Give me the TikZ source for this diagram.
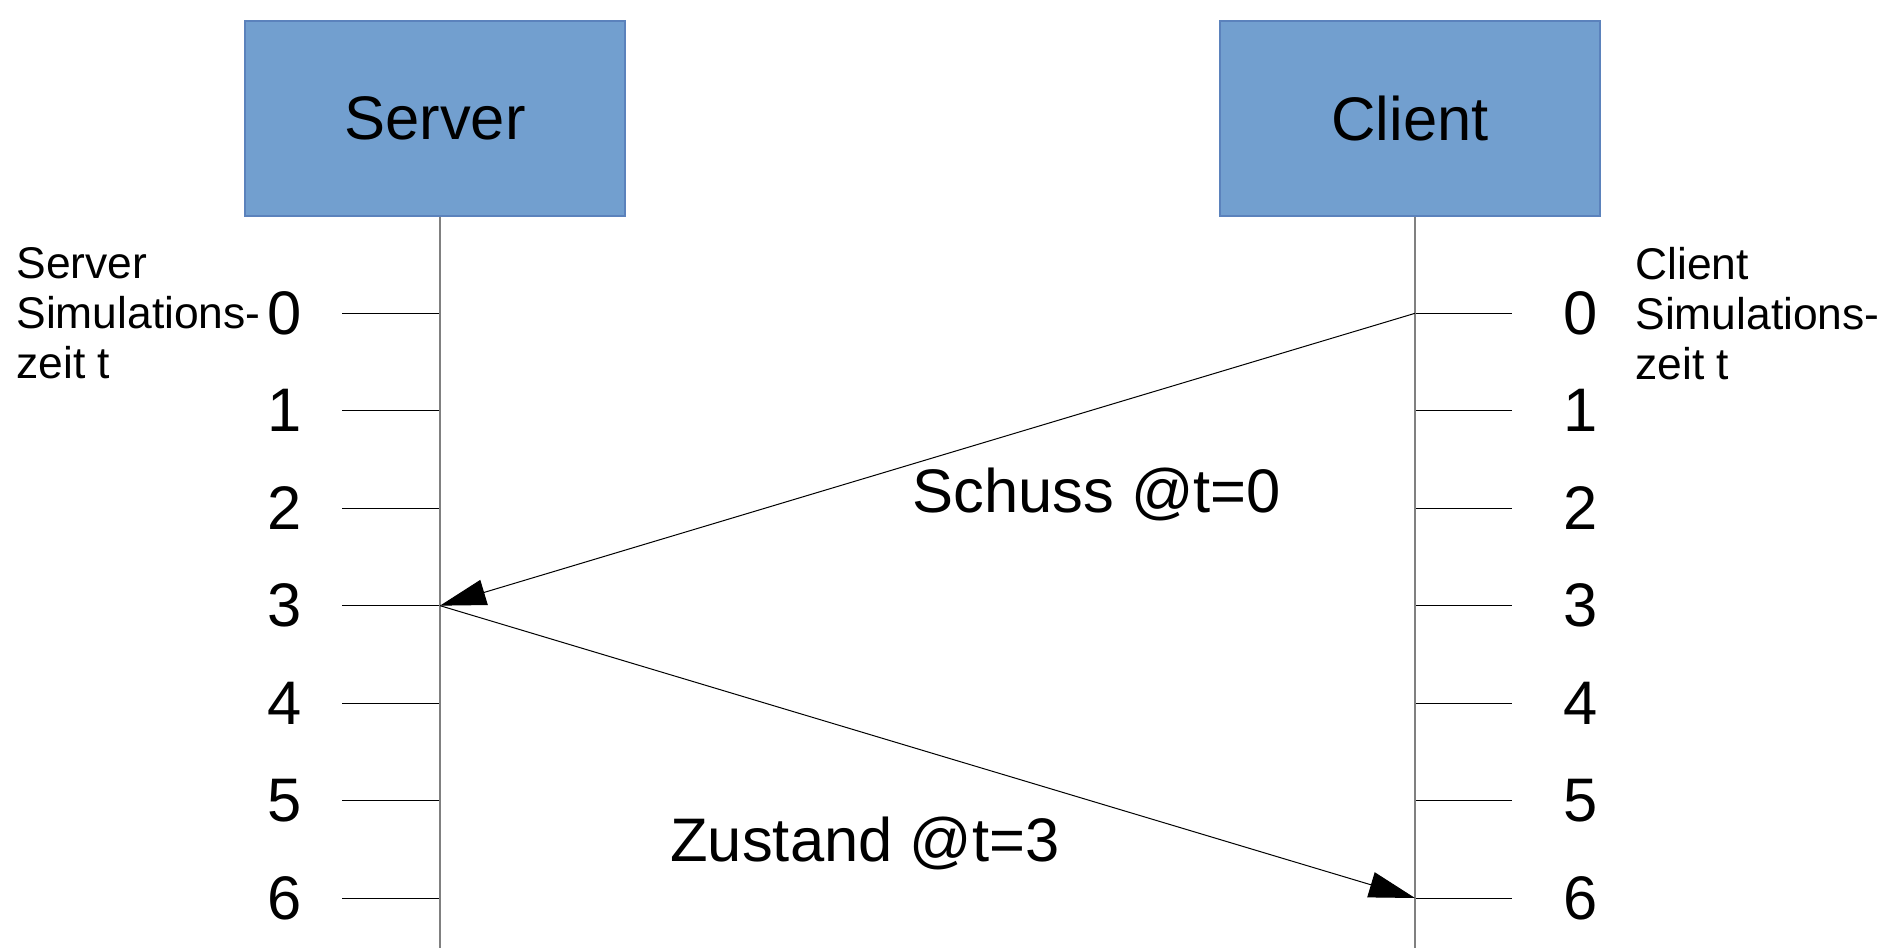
\documentclass[tikz,border=0pt]{standalone}
\usepackage{fontspec}
\setmainfont{Liberation Sans}
\usetikzlibrary{arrows.meta}
\definecolor{boxblue}{HTML}{729FCF}
\definecolor{boxline}{HTML}{5B82BC}
\definecolor{lifegray}{HTML}{808080}
\tikzset{
  party/.style={draw=boxline,fill=boxblue,line width=0.6pt,minimum width=190pt,minimum height=97.5pt,inner sep=0pt},
  lifeline/.style={draw=lifegray,line width=1pt},
  tickmark/.style={draw=black,line width=0.5pt},
  msg/.style={draw=black,line width=0.5pt,-{Triangle[length=23pt,width=13pt]}},
  sidelabel/.style={align=left,anchor=west,inner sep=0pt,font=\fontsize{22.2}{25}\selectfont}
}
\begin{document}
\begin{tikzpicture}[x=0.5pt,y=-0.5pt,font=\fontsize{30.75}{35}\selectfont]
  \useasboundingbox (0,0) rectangle (1900,948);
  \node[party] (server) at (435,118.5) {Server};
  \node[party] (client) at (1410,118.5) {Client};
  % tick marks on both time lines
  \foreach \t in {0,...,6} {
    \coordinate (s\t) at (440,{313.3+97.45*\t});
    \coordinate (sl\t) at (342,{313.3+97.45*\t});
    \coordinate (c\t) at (1415,{313.3+97.45*\t});
    \coordinate (cr\t) at (1512,{313.3+97.45*\t});
    \draw[tickmark] (sl\t) -- (s\t);
    \draw[tickmark] (c\t) -- (cr\t);
    \node (ns\t) at (285,{313.3+97.45*\t}) {\t};
    \node (nc\t) at (1581,{313.3+97.45*\t}) {\t};
  }
  \coordinate (sEnd) at (440,948);
  \coordinate (cEnd) at (1415,948);
  \draw[lifeline] (server.south -| s0) -- (sEnd);
  \draw[lifeline] (client.south -| c0) -- (cEnd);
  \node[sidelabel] (slabel) at (16,313.3) {Server\\Simulations-\\zeit t};
  \node[sidelabel] (clabel) at (1635,313.3) {Client\\Simulations-\\zeit t};
  % messages
  \draw[msg] (c0) -- (s3);
  \draw[msg] (s3) -- (c6);
  \node[anchor=base west,inner sep=0pt] (schuss) at (912,512) {Schuss @t=0};
  \node[anchor=base west,inner sep=0pt] (zustand) at (670,861.5) {Zustand @t=3};
\end{tikzpicture}
\end{document}
